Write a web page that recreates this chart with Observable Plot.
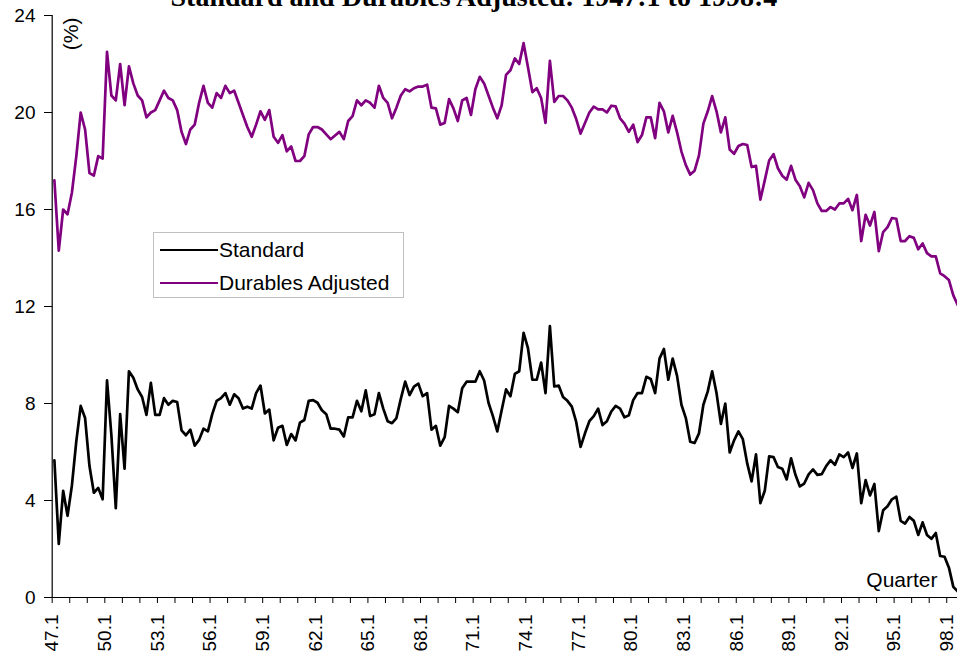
<!DOCTYPE html>
<html><head><meta charset="utf-8">
<script src="https://cdn.jsdelivr.net/npm/d3@7"></script>
<script src="https://cdn.jsdelivr.net/npm/@observablehq/plot@0.6"></script>
<style>
html,body{margin:0;padding:0;background:#fff;overflow:hidden}
#wrap{position:relative;width:957px;height:659px;overflow:hidden}
#wrap svg{display:block}
.legend{position:absolute;left:153px;top:232px;width:251px;height:66px;border:1px solid #c0c0c0;background:#fff;box-sizing:border-box;font-family:"Liberation Sans",Arial,sans-serif;font-size:21px;color:#000}
.row{position:absolute;left:6px;height:24px;line-height:24px;display:flex;align-items:center;white-space:nowrap}
.sw{width:58px;height:2px;margin-right:1px}
</style></head><body><div id="wrap"></div>
<script>
const firstYear = 1947, lastYear = 1998;
const quarters = [];
for (let y = firstYear; y <= lastYear; y++) for (let q = 1; q <= 4; q++) quarters.push(String(y % 100) + "." + q);

const standard = [
5.66,2.21,4.4,3.37,4.63,6.45,7.9,7.4,5.42,4.32,4.52,4.05,
8.95,6.69,3.68,7.56,5.31,9.33,9.06,8.58,8.27,7.53,8.85,7.53,
7.53,8.22,7.95,8.11,8.06,6.89,6.69,6.92,6.26,6.5,6.96,6.85,
7.56,8.11,8.22,8.43,7.95,8.38,8.22,7.79,7.87,7.79,8.43,8.74,
7.59,7.75,6.48,7.0,7.08,6.29,6.74,6.48,7.21,7.32,8.11,8.14,
8.03,7.72,7.56,6.96,6.96,6.92,6.64,7.43,7.43,8.11,7.68,8.54,
7.48,7.56,8.43,7.79,7.27,7.19,7.4,8.19,8.9,8.35,8.7,8.82,
8.3,8.43,6.92,7.08,6.26,6.61,7.9,7.79,7.64,8.63,8.9,8.9,
8.9,9.33,8.95,8.03,7.48,6.85,7.72,8.58,8.3,9.22,9.33,10.91,
10.28,8.98,8.98,9.69,8.43,11.19,8.7,8.74,8.27,8.11,7.87,7.24,
6.21,6.77,7.27,7.48,7.79,7.11,7.27,7.67,7.9,7.79,7.43,7.51,
8.14,8.43,8.43,9.1,9.01,8.43,9.85,10.25,8.98,9.85,9.14,7.95,
7.4,6.42,6.37,6.77,7.95,8.5,9.33,8.43,7.16,8.0,5.98,6.48,
6.85,6.53,5.53,4.79,5.9,3.89,4.4,5.82,5.79,5.38,5.31,4.87,
5.74,5.06,4.58,4.7,5.08,5.28,5.06,5.09,5.42,5.66,5.47,5.9,
5.79,5.98,5.34,5.94,3.89,4.84,4.21,4.68,2.74,3.6,3.76,4.05,
4.16,3.16,3.05,3.32,3.16,2.58,3.1,2.58,2.42,2.66,1.71,1.68,
1.23,0.44,0.25,0.1
];

const durablesAdjusted = [
17.2,14.3,16.0,15.8,16.7,18.2,20.0,19.3,17.5,17.4,18.2,18.1,
22.5,20.7,20.5,22.0,20.3,21.9,21.2,20.7,20.5,19.8,20.0,20.1,
20.5,20.9,20.6,20.5,20.1,19.2,18.7,19.3,19.5,20.4,21.1,20.4,
20.2,20.8,20.6,21.1,20.8,20.9,20.4,19.9,19.4,19.0,19.5,20.05,
19.7,20.1,19.0,18.75,19.07,18.4,18.6,18.0,18.0,18.2,19.1,19.4,
19.4,19.3,19.1,18.9,19.05,19.2,18.9,19.65,19.85,20.5,20.3,20.5,
20.4,20.2,21.1,20.6,20.4,19.76,20.2,20.7,20.96,20.87,21.0,21.07,
21.07,21.15,20.2,20.17,19.5,19.57,20.55,20.17,19.65,20.5,20.6,19.9,
20.96,21.47,21.2,20.7,20.2,19.76,20.3,21.55,21.74,22.23,22.0,22.86,
21.87,20.84,21.0,20.6,19.57,22.13,20.44,20.68,20.68,20.5,20.2,19.73,
19.13,19.57,20.0,20.24,20.13,20.13,20.0,20.28,20.25,19.76,19.54,19.2,
19.5,18.78,19.07,19.8,19.8,18.94,20.4,20.05,19.18,19.86,19.18,18.39,
17.83,17.44,17.6,18.23,19.54,20.05,20.68,20.05,19.18,19.8,18.47,18.3,
18.62,18.7,18.66,17.75,17.8,16.41,17.2,18.02,18.28,17.7,17.39,17.23,
17.8,17.23,16.96,16.5,17.1,16.8,16.25,15.94,15.94,16.1,16.0,16.25,
16.25,16.44,15.97,16.6,14.7,15.78,15.34,15.9,14.28,15.07,15.27,15.65,
15.62,14.7,14.7,14.9,14.83,14.36,14.6,14.2,14.07,14.07,13.37,13.25,
13.09,12.46,12.06,11.8
];

const tickLabels = ["47.1","50.1","53.1","56.1","59.1","62.1","65.1","68.1","71.1","74.1","77.1","80.1","83.1","86.1","89.1","92.1","95.1","98.1"];
const yTicks = [0, 4, 8, 12, 16, 20, 24];
const seriesNames = ["Standard", "Durables Adjusted"];
const seriesColors = ["#000000", "#800080"];
const titleText = "Standard and Durables Adjusted: 1947:1 to 1998:4";

const rows = [];
quarters.forEach((q, i) => {
  rows.push({i, q, series: seriesNames[0], value: standard[i]});
  rows.push({i, q, series: seriesNames[1], value: durablesAdjusted[i]});
});
const yearBounds = [];
for (let k = 0; k <= quarters.length / 4; k++) yearBounds.push(k * 4 - 0.5);
const labelIdx = tickLabels.map(l => quarters.indexOf(l));

const step = 4.385, x0 = 51.7;
const sans = "Liberation Sans, Arial, sans-serif";

const chart = Plot.plot({
  width: 957, height: 659,
  marginLeft: 52, marginTop: 15, marginBottom: 62, marginRight: 0,
  x: {type: "linear", domain: [-0.5, quarters.length - 0.5], range: [x0, x0 + quarters.length * step], label: null},
  y: {domain: [0, 24], range: [597, 15], label: null},
  color: {domain: seriesNames, range: seriesColors},
  style: {fontFamily: sans, fontSize: "19px", color: "#000", background: "#fff", overflow: "hidden"},
  marks: [
    Plot.axisY({ticks: yTicks, tickSize: 8, tickPadding: 9, tickFormat: d => String(d), fontSize: 19, label: null}),
    Plot.axisX({ticks: yearBounds, tickSize: 6, tickFormat: () => "", label: null}),
    Plot.axisX({ticks: labelIdx, tickSize: 0, tickPadding: 17, tickRotate: -90, tickFormat: i => quarters[i], fontSize: 19, dx: -2, label: null}),
    Plot.lineY(rows, {x: "i", y: "value", z: "series", stroke: "series", strokeWidth: 2.7, strokeLinejoin: "round"}),
    Plot.ruleX([-0.5], {y1: 0, y2: 24, stroke: "#000", strokeWidth: 1.2}),
    Plot.ruleY([0], {stroke: "#000", strokeWidth: 1.2}),
    Plot.text(["(%)"], {frameAnchor: "top-left", rotate: -90, textAnchor: "end", lineAnchor: "middle", dx: 19, dy: 2, fontSize: 21, fill: "#000"}),
    Plot.text(["Quarter"], {frameAnchor: "bottom-right", textAnchor: "end", lineAnchor: "bottom", dx: -20, dy: -11, fontSize: 21, fill: "#000"}),
    Plot.text([titleText], {frameAnchor: "top-left", textAnchor: "start", lineAnchor: "bottom", dx: 118, dy: -10, fontFamily: "Liberation Serif, Times New Roman, serif", fontWeight: "bold", fontSize: 28, fill: "#000"})
  ]
});

const wrap = document.getElementById("wrap");
wrap.appendChild(chart);

const legend = document.createElement("div");
legend.className = "legend";
seriesNames.forEach((name, k) => {
  const row = document.createElement("div");
  row.className = "row";
  row.style.top = (5 + k * 33) + "px";
  const sw = document.createElement("span");
  sw.className = "sw";
  sw.style.background = seriesColors[k];
  const tx = document.createElement("span");
  tx.textContent = name;
  row.appendChild(sw);
  row.appendChild(tx);
  legend.appendChild(row);
});
wrap.appendChild(legend);
</script>
</body></html>
